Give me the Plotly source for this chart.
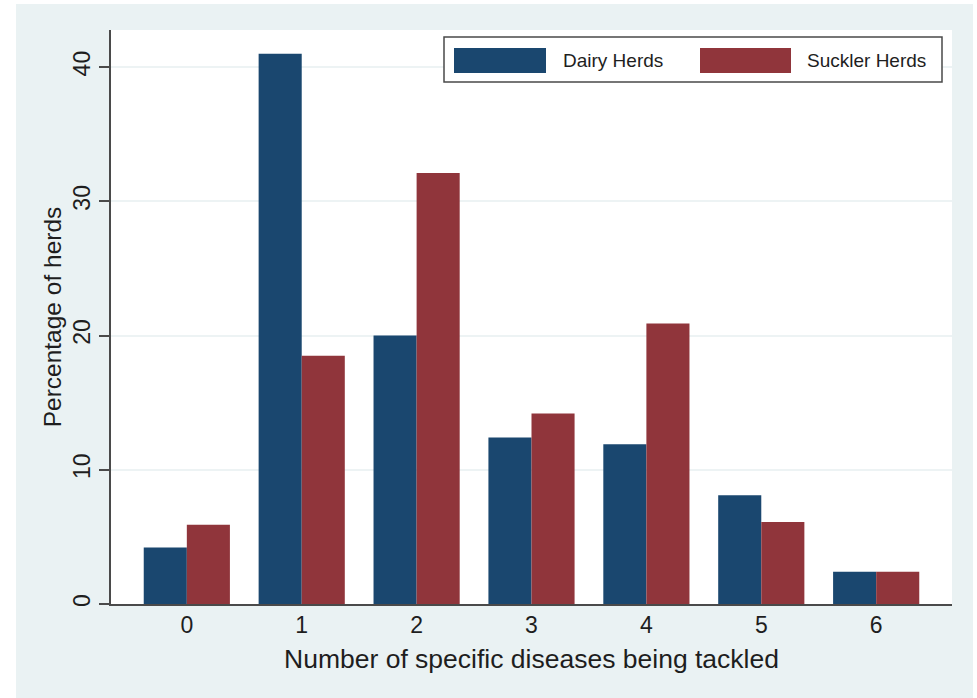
import plotly.graph_objects as go

# Number of specific diseases being tackled per herd
diseases = [0, 1, 2, 3, 4, 5, 6]
dairy_pct = [4.2, 41.0, 20.0, 12.4, 11.9, 8.1, 2.4]
suckler_pct = [5.9, 18.5, 32.1, 14.2, 20.9, 6.1, 2.4]
y_ticks = [0, 10, 20, 30, 40]
series_names = ["Dairy Herds", "Suckler Herds"]

W, H = 977, 698
L, R, T, B = 111, 952, 30, 604   # plot area in pixels
NAVY = "#1A476F"
MAROON = "#90353B"
BG = "#EAF2F3"
GRID = "#EDF3F4"
AXIS = "#4a4a4a"
TEXT = "#1e1e1e"
FONT = "Liberation Sans, Arial, sans-serif"


def px_x(p):
    return (p - L) / (R - L)


def px_y(p):
    return (B - p) / (B - T)


fig = go.Figure()
fig.add_trace(go.Bar(x=diseases, y=dairy_pct, name=series_names[0],
                     marker=dict(color=NAVY, line=dict(width=0))))
fig.add_trace(go.Bar(x=diseases, y=suckler_pct, name=series_names[1],
                     marker=dict(color=MAROON, line=dict(width=0))))

shapes = [
    # outer graph region
    dict(type="rect", xref="paper", yref="paper", layer="below",
         x0=px_x(16), x1=px_x(973), y0=px_y(698), y1=px_y(4),
         fillcolor=BG, line=dict(width=0)),
    # plot region
    dict(type="rect", xref="paper", yref="paper", layer="below",
         x0=0, x1=1, y0=0, y1=1, fillcolor="white", line=dict(width=0)),
    # legend frame
    dict(type="rect", xref="paper", yref="paper",
         x0=px_x(444), x1=px_x(942), y0=px_y(82), y1=px_y(37),
         fillcolor="white", line=dict(color=AXIS, width=1.5)),
    # legend keys
    dict(type="rect", xref="paper", yref="paper",
         x0=px_x(454), x1=px_x(546), y0=px_y(73), y1=px_y(48),
         fillcolor=NAVY, line=dict(width=0)),
    dict(type="rect", xref="paper", yref="paper",
         x0=px_x(700), x1=px_x(791), y0=px_y(73), y1=px_y(48),
         fillcolor=MAROON, line=dict(width=0)),
]

annotations = [
    dict(text=series_names[0], xref="paper", yref="paper",
         x=px_x(561), y=px_y(60.5), xanchor="left", yanchor="middle",
         showarrow=False, font=dict(size=19, color=TEXT, family=FONT)),
    dict(text=series_names[1], xref="paper", yref="paper",
         x=px_x(805), y=px_y(60.5), xanchor="left", yanchor="middle",
         showarrow=False, font=dict(size=19, color=TEXT, family=FONT)),
]

fig.update_layout(
    width=W, height=H,
    margin=dict(l=L, r=W - R, t=T, b=H - B, pad=0),
    paper_bgcolor="white",
    plot_bgcolor="rgba(0,0,0,0)",
    barmode="group",
    bargap=0.25,
    bargroupgap=0,
    showlegend=False,
    shapes=shapes,
    annotations=annotations,
    font=dict(family=FONT, color=TEXT),
    xaxis=dict(
        range=[-0.66, 6.66],
        tickmode="array", tickvals=diseases,
        ticktext=[str(d) for d in diseases],
        showgrid=False, zeroline=False,
        showline=True, linecolor=AXIS, linewidth=1.5,
        ticks="", tickfont=dict(size=23, color=TEXT),
        title=dict(text="Number of specific diseases being tackled",
                   font=dict(size=26.5, color=TEXT), standoff=12),
    ),
    yaxis=dict(
        range=[0, 42.76],
        tickmode="array", tickvals=y_ticks,
        showgrid=True, gridcolor=GRID, gridwidth=1.5,
        zeroline=False,
        showline=True, linecolor=AXIS, linewidth=1.5,
        ticks="outside", ticklen=10, tickcolor=AXIS, tickwidth=1.5,
        tickangle=-90, tickfont=dict(size=23, color=TEXT),
        title=dict(text="Percentage of herds",
                   font=dict(size=24.5, color=TEXT), standoff=0),
    ),
)

fig.write_html("out.html")
